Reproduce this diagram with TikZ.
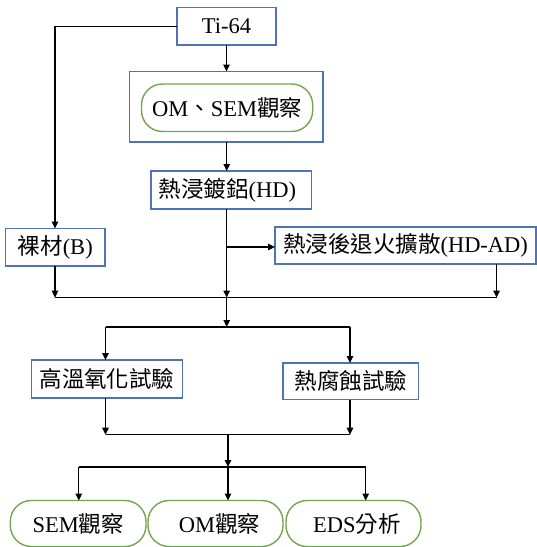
\documentclass[tikz,border=0pt]{standalone}
\usepackage{fontspec}
\setmainfont{Liberation Serif}
\newfontfamily\cjk{Noto Sans CJK TC}
\usetikzlibrary{arrows.meta}
\definecolor{boxblue}{RGB}{79,114,185}
\definecolor{pillgreen}{RGB}{118,165,80}
\begin{document}
\begin{tikzpicture}[x=1pt,y=-1pt,
  font=\fontsize{22.5}{26}\selectfont,
  box/.style={draw=boxblue, line width=1.4pt, inner sep=0pt, outer sep=0pt, fill=white},
  pill/.style={draw=pillgreen, line width=1.4pt, rounded corners=21pt, inner sep=0pt, outer sep=0pt, fill=white},
  link/.style={line width=1.3pt, black},
  arr/.style={link, -{Triangle[length=7pt,width=6.5pt]}}]
\fill[white] (0,0) rectangle (537,547);
\useasboundingbox (0,0) rectangle (537,547);

% process boxes
\node[box, minimum width=99pt, minimum height=37.7pt] (ti) at (226.5,26.3) {Ti-64};
\node[box, minimum width=193.5pt, minimum height=70.5pt] (obs) at (226.25,106.75) {};
\node[pill, minimum width=171.2pt, minimum height=47.5pt] (obsin) at (227.1,107.75) {OM{\cjk 、}SEM{\cjk 觀察}};
\node[box, minimum width=160.6pt, minimum height=38pt] (hd) at (231.3,190) {\hspace*{-8pt}{\cjk 熱浸鍍鋁}(HD)};
\node[box, minimum width=99.5pt, minimum height=37.5pt] (bare) at (55.25,247.25) {{\cjk 裸材}(B)};
\node[box, minimum width=261pt, minimum height=37pt] (hdad) at (405.5,245.5) {{\cjk 熱浸後退火擴散}(HD-AD)};
\node[box, minimum width=151pt, minimum height=38pt] (oxi) at (107,379) {\cjk 高溫氧化試驗};
\node[box, minimum width=135.5pt, minimum height=36.5pt] (cor) at (350.75,381.25) {\cjk 熱腐蝕試驗};
\node[pill, minimum width=135.7pt, minimum height=46pt] (sem) at (78.15,523.5) {SEM{\cjk 觀察}};
\node[pill, minimum width=135pt, minimum height=46pt] (om) at (215.5,523.5) {\hspace*{8pt}OM{\cjk 觀察}};
\node[pill, minimum width=135pt, minimum height=46pt] (eds) at (353.5,523.5) {\hspace*{7pt}EDS{\cjk 分析}};

% junction points
\coordinate (mainA) at (226.7,297.6);
\coordinate (mainB) at (226.7,327);
\coordinate (branch) at (226.7,247);
\coordinate (mergeL) at (55,297.6);
\coordinate (mergeR) at (496.6,297.6);
\coordinate (splitL) at (105.5,327);
\coordinate (splitR) at (350,327);
\coordinate (joinL) at (105.5,434.7);
\coordinate (joinR) at (350,434.7);
\coordinate (joinC) at (228,434.7);
\coordinate (fanC) at (228,467);
\coordinate (fanL) at (78.8,467);
\coordinate (fanR) at (365.7,467);

% upper flow
\draw[arr] (ti.west) -| (bare.north -| mergeL);
\draw[arr] (ti.south) -- (ti.south |- obs.north);
\draw[arr] (obs.south -| mainA) -- (hd.north -| mainA);
\draw[arr] (hd.south -| mainA) -- (mainA);
\draw[arr] (branch) -- (hdad.west |- branch);
\draw[arr] (bare.south -| mergeL) -- (mergeL);
\draw[arr] (hdad.south -| mergeR) -- (mergeR);
\draw[link] (mergeL) -- (mergeR);

% tests
\draw[arr] (mainA) -- (mainB);
\draw[link] (splitL) -- (splitR);
\draw[arr] (splitL) -- (oxi.north -| splitL);
\draw[arr] (splitR) -- (cor.north -| splitR);
\draw[arr] (oxi.south -| joinL) -- (joinL);
\draw[arr] (cor.south -| joinR) -- (joinR);
\draw[link] (joinL) -- (joinR);

% analyses
\draw[arr] (joinC) -- (fanC);
\draw[link] (fanL) -- (fanR);
\draw[arr] (fanL) -- (sem.north -| fanL);
\draw[arr] (fanC) -- (om.north -| fanC);
\draw[arr] (fanR) -- (eds.north -| fanR);
\end{tikzpicture}
\end{document}
